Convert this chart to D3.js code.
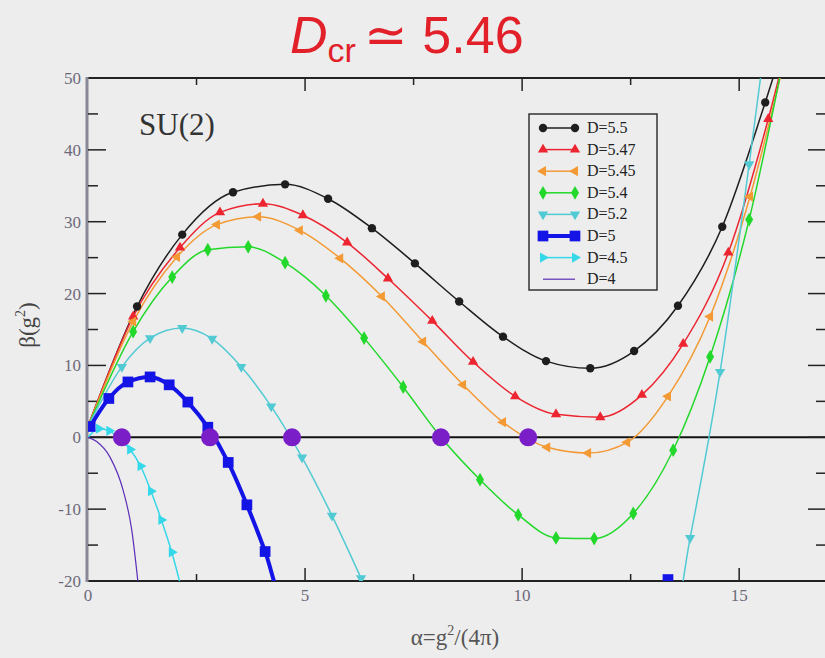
<!DOCTYPE html>
<html>
<head>
<meta charset="utf-8">
<script src="https://cdn.jsdelivr.net/npm/d3@7"></script>
<style>
  body { margin: 0; background: #ededed; }
  svg { display: block; }
</style>
</head>
<body>
<svg id="chart"></svg>
<script>
// beta function curves, [alpha, beta]
const d55  = [[0,1.5],[1.13,18.2],[2.17,28.2],[3.34,34.1],[4.54,35.2],[5.53,33.2],[6.54,29.1],[7.53,24.2],[8.55,18.9],[9.56,14.0],[10.55,10.6],[11.57,9.6],[12.58,12.0],[13.59,18.3],[14.61,29.3],[15.60,46.6],[16.2,58]];
const d547 = [[0,1.5],[1.04,16.8],[2.12,26.4],[3.04,31.3],[4.03,32.5],[4.95,30.9],[5.97,27.1],[6.91,22.1],[7.93,16.2],[8.87,10.5],[9.84,5.7],[10.78,3.2],[11.80,2.8],[12.76,5.9],[13.71,13.0],[14.75,25.7],[15.67,44.3],[16.2,57]];
const d545 = [[0,1.5],[1.04,16.1],[2.05,25.1],[2.97,29.6],[3.92,30.7],[4.88,28.8],[5.81,24.9],[6.77,19.6],[7.72,13.3],[8.64,7.3],[9.56,2.1],[10.58,-1.4],[11.52,-2.2],[12.42,-0.7],[13.36,5.7],[14.33,16.8],[15.25,33.5],[16.1,54]];
const d54  = [[0,1.5],[1.04,14.7],[1.94,22.3],[2.76,26.1],[3.69,26.5],[4.54,24.3],[5.48,19.7],[6.36,13.8],[7.26,7.0],[8.13,0.0],[9.03,-5.9],[9.91,-10.8],[10.78,-14.0],[11.66,-14.1],[12.56,-10.6],[13.48,-1.8],[14.33,11.2],[15.23,30.3],[16.1,55]];
const d52  = [[0,1.5],[0.78,9.8],[1.43,13.8],[2.17,15.2],[2.86,13.7],[3.53,9.8],[4.22,4.3],[4.93,-2.8],[5.62,-10.9],[6.29,-19.6],[7.0,-29],[13.5,-25],[13.87,-14.0],[14.56,9.1],[15.23,38.0],[15.6,55]];
const d5   = [[0.05,1.5],[0.48,5.4],[0.92,7.7],[1.43,8.4],[1.87,7.3],[2.30,4.9],[2.76,1.4],[3.23,-3.5],[3.66,-9.4],[4.08,-15.9],[4.5,-23],[12.9,-32],[13.36,-19.8]];
const d45  = [[0,0],[0.25,1.2],[0.49,0.9],[0.73,-0.2],[0.97,-1.7],[1.21,-4.0],[1.45,-7.5],[1.69,-11.5],[1.93,-16.0],[2.17,-21.5]];
const d4   = [[0,0],[0.2,-0.6],[0.51,-2.8],[0.81,-7.4],[1.01,-13.0],[1.13,-19.0],[1.2,-23]];
const zeros = [0.78, 2.81, 4.70, 8.13, 10.14];

const labels = ["D=5.5","D=5.47","D=5.45","D=5.4","D=5.2","D=5","D=4.5","D=4"];
const xTicks = [0, 5, 10, 15];
const yTicks = [-20, -10, 0, 10, 20, 30, 40, 50];

const series = [
  {label: labels[0], data: d55,  color: "#1e1e1e", width: 1.5, shape: d3.symbolCircle,   size: 55,  rot: 0},
  {label: labels[1], data: d547, color: "#ec2530", width: 1.5, shape: d3.symbolTriangle, size: 46,  rot: 0},
  {label: labels[2], data: d545, color: "#f39a35", width: 1.5, shape: d3.symbolTriangle, size: 46,  rot: -90},
  {label: labels[3], data: d54,  color: "#22d82a", width: 1.5, shape: d3.symbolDiamond,  size: 55,  rot: 0},
  {label: labels[4], data: d52,  color: "#52cad3", width: 1.5, shape: d3.symbolTriangle, size: 46,  rot: 180},
  {label: labels[5], data: d5,   color: "#1414e6", width: 4,   shape: d3.symbolSquare,   size: 115, rot: 0},
  {label: labels[6], data: d45,  color: "#35d8e8", width: 1.5, shape: d3.symbolTriangle, size: 46,  rot: 90},
  {label: labels[7], data: d4,   color: "#5b2db8", width: 1.2, shape: null}
];

const W = 825, H = 658;
const svg = d3.select("#chart").attr("width", W).attr("height", H);

const x = d3.scaleLinear().domain([0, 17]).range([88, 826]);
const y = d3.scaleLinear().domain([-20, 50]).range([581, 78]);

svg.append("defs").append("clipPath").attr("id", "plot")
  .append("rect").attr("x", 88).attr("y", 78).attr("width", 738).attr("height", 503);

// title
const title = svg.append("text")
  .attr("x", 290).attr("y", 53)
  .attr("fill", "#e2202a")
  .attr("font-family", "Liberation Sans, Arial, sans-serif")
  .attr("font-size", 52);
title.append("tspan").attr("font-style", "italic").text("D");
title.append("tspan").attr("font-size", 34).attr("dy", 9).text("cr");
title.append("tspan").attr("dy", -9).attr("dx", 8).text("\u2243 5.46");

// frame
svg.append("line").attr("x1", 88).attr("x2", 826).attr("y1", 78).attr("y2", 78)
  .attr("stroke", "#222").attr("stroke-width", 2);
svg.append("line").attr("x1", 88).attr("x2", 826).attr("y1", 581).attr("y2", 581)
  .attr("stroke", "#222").attr("stroke-width", 2);
svg.append("line").attr("x1", 87).attr("x2", 87).attr("y1", 77).attr("y2", 582)
  .attr("stroke", "#8a8896").attr("stroke-width", 3);
svg.append("line").attr("x1", 88).attr("x2", 826).attr("y1", y(0)).attr("y2", y(0))
  .attr("stroke", "#111").attr("stroke-width", 2);

// y ticks (left and right, inward)
const yMinor = d3.range(-15, 50, 10);
const tg = svg.append("g").attr("stroke", "#222").attr("stroke-width", 1.5);
yTicks.filter(v => v > -20 && v < 50).forEach(v => {
  tg.append("line").attr("x1", 88).attr("x2", 106).attr("y1", y(v)).attr("y2", y(v));
  tg.append("line").attr("x1", 826).attr("x2", 808).attr("y1", y(v)).attr("y2", y(v));
});
yMinor.forEach(v => {
  tg.append("line").attr("x1", 88).attr("x2", 98).attr("y1", y(v)).attr("y2", y(v));
  tg.append("line").attr("x1", 826).attr("x2", 816).attr("y1", y(v)).attr("y2", y(v));
});
// x ticks (bottom and top)
xTicks.filter(v => v > 0).forEach(v => {
  tg.append("line").attr("x1", x(v)).attr("x2", x(v)).attr("y1", 581).attr("y2", 568);
  tg.append("line").attr("x1", x(v)).attr("x2", x(v)).attr("y1", 78).attr("y2", 91);
});
[2.5, 7.5, 12.5].forEach(v => {
  tg.append("line").attr("x1", x(v)).attr("x2", x(v)).attr("y1", 581).attr("y2", 574);
  tg.append("line").attr("x1", x(v)).attr("x2", x(v)).attr("y1", 78).attr("y2", 85);
});

// tick labels
svg.append("g").selectAll("text").data(yTicks).join("text")
  .attr("x", 81).attr("y", d => y(d) + 6)
  .attr("text-anchor", "end")
  .attr("font-family", "Liberation Serif, Times New Roman, serif")
  .attr("font-size", 17).attr("fill", "#6c6a7a")
  .text(d => d);
svg.append("g").selectAll("text").data(xTicks).join("text")
  .attr("x", d => x(d)).attr("y", 601)
  .attr("text-anchor", "middle")
  .attr("font-family", "Liberation Serif, Times New Roman, serif")
  .attr("font-size", 17).attr("fill", "#6c6a7a")
  .text(d => d);

// axis titles
const xt = svg.append("text").attr("x", 455).attr("y", 645).attr("text-anchor", "middle")
  .attr("font-family", "Liberation Serif, Times New Roman, serif").attr("font-size", 23).attr("fill", "#555");
xt.append("tspan").text("\u03b1=g");
xt.append("tspan").attr("font-size", 14).attr("dy", -10).text("2");
xt.append("tspan").attr("dy", 10).text("/(4\u03c0)");

const yt = svg.append("text").attr("transform", "translate(35,325) rotate(-90)").attr("text-anchor", "middle")
  .attr("font-family", "Liberation Serif, Times New Roman, serif").attr("font-size", 23).attr("fill", "#444");
yt.append("tspan").text("\u03b2(g");
yt.append("tspan").attr("font-size", 14).attr("dy", -10).text("2");
yt.append("tspan").attr("dy", 10).text(")");

svg.append("text").attr("x", 139).attr("y", 135)
  .attr("font-family", "Liberation Serif, Times New Roman, serif")
  .attr("font-size", 31).attr("fill", "#333").text("SU(2)");

// curves
const plot = svg.append("g").attr("clip-path", "url(#plot)");
const line = d3.line().x(d => x(d[0])).y(d => y(d[1])).curve(d3.curveMonotoneX);

series.forEach(s => {
  plot.append("path").datum(s.data)
    .attr("d", line)
    .attr("fill", "none")
    .attr("stroke", s.color)
    .attr("stroke-width", s.width);
});
series.forEach(s => {
  if (!s.shape) return;
  const sym = d3.symbol().type(s.shape).size(s.size);
  plot.selectAll(null).data(s.data.filter(d => d[0] > 0)).join("path")
    .attr("d", sym)
    .attr("transform", d => `translate(${x(d[0])},${y(d[1])}) rotate(${s.rot})`)
    .attr("fill", s.color);
});

// fixed points
plot.selectAll("circle.zero").data(zeros).join("circle")
  .attr("class", "zero")
  .attr("cx", d => x(d)).attr("cy", y(0)).attr("r", 9)
  .attr("fill", "#7a1ec8");

// legend
const lg = svg.append("g");
lg.append("rect").attr("x", 529).attr("y", 114).attr("width", 128).attr("height", 176)
  .attr("fill", "#ededed").attr("stroke", "#333").attr("stroke-width", 1.5);
series.forEach((s, i) => {
  const ly = 128 + i * 21.6;
  lg.append("line").attr("x1", 543).attr("x2", 575).attr("y1", ly).attr("y2", ly)
    .attr("stroke", s.color).attr("stroke-width", s.width);
  if (s.shape) {
    const sym = d3.symbol().type(s.shape).size(s.size);
    [543, 575].forEach(px => {
      lg.append("path").attr("d", sym)
        .attr("transform", `translate(${px},${ly}) rotate(${s.rot})`)
        .attr("fill", s.color);
    });
  }
  lg.append("text").attr("x", 587).attr("y", ly + 5)
    .attr("font-family", "Liberation Serif, Times New Roman, serif")
    .attr("font-size", 16).attr("fill", "#222").text(s.label);
});
</script>
</body>
</html>
